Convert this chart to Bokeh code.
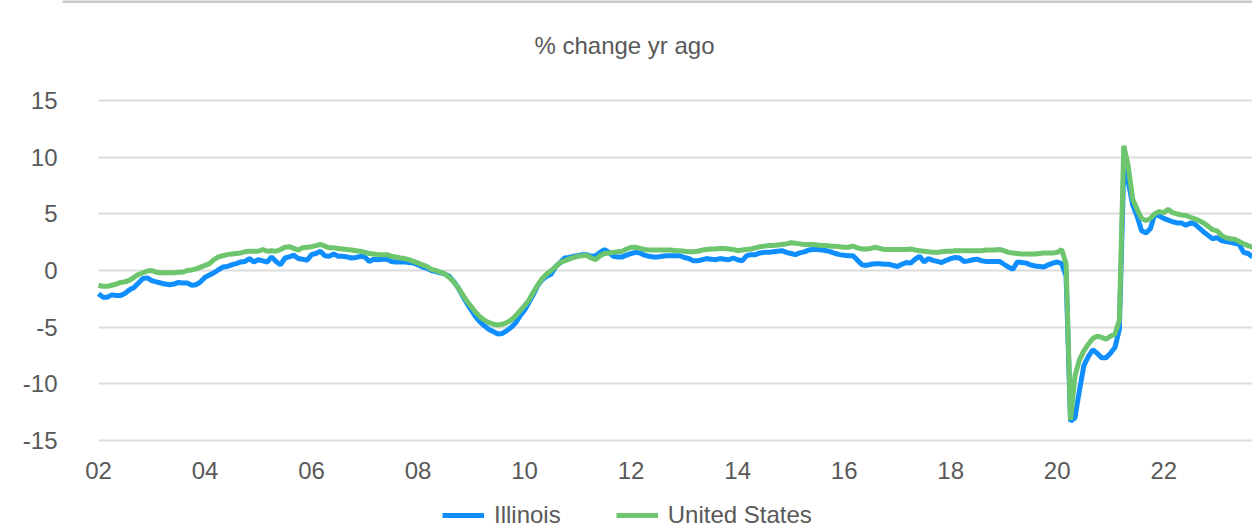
import pandas as pd
from bokeh.plotting import figure
from bokeh.models import (ColumnDataSource, Range1d, FixedTicker, Legend, LegendItem, Label, Span,
                          BoxAnnotation)
from bokeh.embed import file_html
from bokeh.resources import INLINE

# ---------------- data (monthly, Jan 2002 - Sep 2023, % change yr ago) ----------------
start_month = "2002-01-01"

illinois = [
    -2.05, -2.35, -2.35, -2.15, -2.2, -2.2, -2.0, -1.7, -1.5, -1.1, -0.7, -0.65,   # 2002
    -0.9, -1.0, -1.1, -1.2, -1.25, -1.2, -1.05, -1.1, -1.1, -1.3, -1.25, -1.0,     # 2003
    -0.6, -0.4, -0.2, 0.05, 0.3, 0.35, 0.5, 0.6, 0.75, 0.8, 1.05, 0.75,            # 2004
    0.95, 0.85, 0.75, 1.2, 0.8, 0.5, 1.1, 1.2, 1.35, 1.05, 1.0, 0.9,               # 2005
    1.4, 1.5, 1.7, 1.3, 1.25, 1.45, 1.25, 1.25, 1.2, 1.1, 1.15, 1.25,              # 2006
    1.2, 0.8, 1.0, 0.95, 1.0, 1.0, 0.8, 0.75, 0.75, 0.75, 0.7, 0.65,               # 2007
    0.5, 0.3, 0.2, 0.0, -0.1, -0.2, -0.3, -0.5, -0.95, -1.5, -2.2, -2.9,           # 2008
    -3.5, -4.1, -4.55, -4.9, -5.2, -5.4, -5.6, -5.55, -5.3, -5.0, -4.6, -4.0,      # 2009
    -3.5, -2.8, -2.1, -1.3, -0.8, -0.5, -0.3, 0.35, 0.7, 1.1, 1.15, 1.25,          # 2010
    1.3, 1.4, 1.4, 1.25, 1.3, 1.6, 1.85, 1.6, 1.25, 1.2, 1.2, 1.35,                # 2011
    1.5, 1.6, 1.55, 1.35, 1.25, 1.2, 1.2, 1.25, 1.3, 1.3, 1.3, 1.3,                # 2012
    1.15, 1.05, 0.85, 0.85, 0.95, 1.05, 1.0, 0.95, 1.05, 1.0, 0.95, 1.1,           # 2013
    0.95, 0.85, 1.3, 1.4, 1.4, 1.55, 1.6, 1.6, 1.65, 1.7, 1.75, 1.6,               # 2014
    1.5, 1.4, 1.55, 1.65, 1.8, 1.85, 1.85, 1.8, 1.75, 1.65, 1.5, 1.4,              # 2015
    1.35, 1.3, 1.3, 0.9, 0.5, 0.45, 0.55, 0.6, 0.6, 0.55, 0.55, 0.45,              # 2016
    0.35, 0.55, 0.7, 0.65, 1.0, 1.25, 0.75, 1.05, 0.9, 0.8, 0.7, 0.9,              # 2017
    1.05, 1.15, 1.1, 0.8, 0.85, 0.95, 1.0, 0.85, 0.8, 0.8, 0.8, 0.8,               # 2018
    0.55, 0.3, 0.1, 0.75, 0.7, 0.65, 0.5, 0.4, 0.35, 0.3, 0.5, 0.65,               # 2019
    0.75, 0.6, -0.5, -13.3, -13.0, -10.6, -8.4, -7.6, -7.0, -7.3, -7.7, -7.7,      # 2020
    -7.3, -6.8, -5.2, 9.0, 7.8, 5.8, 4.8, 3.5, 3.3, 3.7, 5.0, 4.8,                 # 2021
    4.6, 4.45, 4.3, 4.2, 4.2, 4.0, 4.2, 4.1, 3.75, 3.4, 3.1, 2.8,                  # 2022
    2.9, 2.65, 2.55, 2.5, 2.4, 2.3, 1.6, 1.5, 1.2,                                 # 2023
]

united_states = [
    -1.3, -1.4, -1.4, -1.3, -1.2, -1.05, -1.0, -0.85, -0.6, -0.35, -0.2, -0.05,    # 2002
    0.0, -0.15, -0.2, -0.2, -0.2, -0.2, -0.15, -0.15, 0.0, 0.05, 0.15, 0.3,        # 2003
    0.45, 0.6, 0.95, 1.2, 1.3, 1.4, 1.45, 1.5, 1.55, 1.65, 1.7, 1.7,               # 2004
    1.7, 1.85, 1.7, 1.75, 1.7, 1.85, 2.05, 2.1, 1.95, 1.8, 2.0, 2.05,              # 2005
    2.1, 2.2, 2.3, 2.15, 2.0, 2.0, 1.95, 1.9, 1.85, 1.8, 1.75, 1.7,                # 2006
    1.6, 1.5, 1.45, 1.4, 1.4, 1.4, 1.25, 1.2, 1.1, 1.05, 0.95, 0.8,                # 2007
    0.65, 0.5, 0.35, 0.1, 0.0, -0.15, -0.3, -0.6, -1.0, -1.5, -2.1, -2.7,          # 2008
    -3.2, -3.7, -4.1, -4.4, -4.6, -4.75, -4.8, -4.75, -4.6, -4.35, -4.0, -3.55,    # 2009
    -3.1, -2.6, -1.9, -1.25, -0.7, -0.3, 0.0, 0.35, 0.7, 0.85, 1.0, 1.15,          # 2010
    1.25, 1.3, 1.35, 1.1, 0.95, 1.3, 1.5, 1.55, 1.6, 1.65, 1.7, 1.9,               # 2011
    2.05, 2.05, 1.95, 1.85, 1.8, 1.8, 1.8, 1.8, 1.8, 1.8, 1.75, 1.75,              # 2012
    1.7, 1.65, 1.65, 1.7, 1.8, 1.85, 1.9, 1.9, 1.95, 1.95, 1.9, 1.85,              # 2013
    1.75, 1.8, 1.85, 1.9, 2.0, 2.1, 2.15, 2.2, 2.2, 2.25, 2.3, 2.35,               # 2014
    2.45, 2.4, 2.35, 2.3, 2.3, 2.3, 2.25, 2.2, 2.2, 2.15, 2.15, 2.1,               # 2015
    2.05, 2.05, 2.15, 2.0, 1.9, 1.9, 1.95, 2.05, 1.95, 1.85, 1.85, 1.85,           # 2016
    1.85, 1.85, 1.85, 1.9, 1.8, 1.75, 1.7, 1.65, 1.6, 1.6, 1.65, 1.7,              # 2017
    1.7, 1.75, 1.75, 1.75, 1.75, 1.75, 1.75, 1.75, 1.8, 1.8, 1.8, 1.85,            # 2018
    1.75, 1.6, 1.55, 1.5, 1.45, 1.45, 1.45, 1.45, 1.5, 1.55, 1.55, 1.55,           # 2019
    1.6, 1.85, 0.6, -13.2, -9.3, -7.9, -7.1, -6.5, -6.0, -5.8, -5.9, -6.05,        # 2020
    -5.8, -5.6, -4.4, 11.0, 9.2, 6.3, 5.4, 4.6, 4.4, 4.6, 5.0, 5.2,                # 2021
    5.1, 5.4, 5.1, 5.0, 4.9, 4.85, 4.7, 4.55, 4.4, 4.2, 3.9, 3.6,                  # 2022
    3.5, 3.1, 2.9, 2.8, 2.75, 2.55, 2.35, 2.2, 2.05,                               # 2023
]

series_names = ["Illinois", "United States"]
tick_years = [2002, 2004, 2006, 2008, 2010, 2012, 2014, 2016, 2018, 2020, 2022]
tick_labels = ["02", "04", "06", "08", "10", "12", "14", "16", "18", "20", "22"]
y_ticks = [-15, -10, -5, 0, 5, 10, 15]
y_tick_labels = ["-15", "-10", "-5", "0", "5", "10", "15"]
title_text = "% change yr ago"

# ---------------- styling ----------------
FONT = "Liberation Sans"
TEXT_COLOR = "#595959"
BLUE = "#0f8fff"
GREEN = "#6dc66d"
GRID = "#dcdcdc"

dates = pd.date_range(start_month, periods=len(illinois), freq="MS")
xs = list(dates.year + (dates.month - 1) / 12.0)

src = ColumnDataSource(dict(x=xs, il=illinois, us=united_states))

# layout: frame spans page x 62..1252 and y 0..529; data starts at x=98
FRAME_LEFT = 62
DATA_LEFT = 98
PAGE_W, PAGE_H = 1252, 529
px_per_year = (PAGE_W - DATA_LEFT) / (xs[-1] - xs[0])
x_start = xs[0] - (DATA_LEFT - FRAME_LEFT) / px_per_year
PX_PER_UNIT = 340 / 30.0            # gridline 15 at y=100, -15 at y=440
y_top = 15 + 100 / PX_PER_UNIT
y_bottom = -15 - (PAGE_H - 440) / PX_PER_UNIT

p = figure(
    frame_width=PAGE_W - FRAME_LEFT, frame_height=PAGE_H,
    min_border_left=FRAME_LEFT, min_border_right=0, min_border_top=0, min_border_bottom=0,
    x_range=Range1d(x_start, xs[-1]), y_range=Range1d(y_bottom, y_top),
    toolbar_location=None, output_backend="svg",
)
p.outline_line_color = None
p.background_fill_color = "white"
p.border_fill_color = "white"

# grid
p.xgrid.grid_line_color = None
p.ygrid.ticker = FixedTicker(ticks=y_ticks)
p.ygrid.grid_line_color = GRID
p.ygrid.grid_line_width = 2
ygrid = p.ygrid[0]
if "cross_bounds" in ygrid.properties():
    ygrid.cross_bounds = (xs[0], xs[-1])
else:
    p.add_layout(BoxAnnotation(left=x_start, right=xs[0], fill_color="white", fill_alpha=1,
                               line_color=None, level="underlay"))

r_il = p.line("x", "il", source=src, line_color=BLUE, line_width=5)
r_us = p.line("x", "us", source=src, line_color=GREEN, line_width=5)

# y axis
p.yaxis.ticker = FixedTicker(ticks=y_ticks)
p.yaxis.major_label_overrides = {t: lab for t, lab in zip(y_ticks, y_tick_labels)}
p.yaxis.axis_line_color = None
p.yaxis.major_tick_line_color = None
p.yaxis.minor_tick_line_color = None
p.yaxis.major_tick_out = 0
p.yaxis.major_tick_in = 0
p.yaxis.major_label_text_font = FONT
p.yaxis.major_label_text_font_size = "24px"
p.yaxis.major_label_text_color = TEXT_COLOR
p.yaxis.major_label_standoff = 5

# x axis: drawn along the -15 gridline, labels hang below it
p.xaxis.fixed_location = y_ticks[0]
p.xaxis.ticker = FixedTicker(ticks=tick_years)
p.xaxis.major_label_overrides = {yr: lab for yr, lab in zip(tick_years, tick_labels)}
p.xaxis.axis_line_color = None
p.xaxis.major_tick_line_color = None
p.xaxis.minor_tick_line_color = None
p.xaxis.major_tick_out = 0
p.xaxis.major_tick_in = 0
p.xaxis.major_label_text_font = FONT
p.xaxis.major_label_text_font_size = "24px"
p.xaxis.major_label_text_color = TEXT_COLOR
p.xaxis.major_label_standoff = 21

# top rule
p.add_layout(Span(location=y_top, dimension="width", line_color="#c8c8c8", line_width=5))

# title
title = Label(x=2011.876, y=19.85, text=title_text, text_align="center", text_baseline="middle",
              text_font=FONT, text_font_size="24px", text_color=TEXT_COLOR)
p.add_layout(title)

# legend at the bottom of the frame (screen px from the frame's bottom-left)
legend = Legend(
    items=[LegendItem(label=series_names[0], renderers=[r_il]),
           LegendItem(label=series_names[1], renderers=[r_us])],
    orientation="horizontal", location=(442 - FRAME_LEFT, 0),
    border_line_color=None, background_fill_alpha=0,
    glyph_width=42, glyph_height=24, label_height=24,
    label_text_font=FONT, label_text_font_size="24px", label_text_color=TEXT_COLOR,
    label_standoff=10, spacing=55, padding=0, margin=0,
)
p.add_layout(legend)

open("out.html", "w").write(file_html(p, INLINE))
